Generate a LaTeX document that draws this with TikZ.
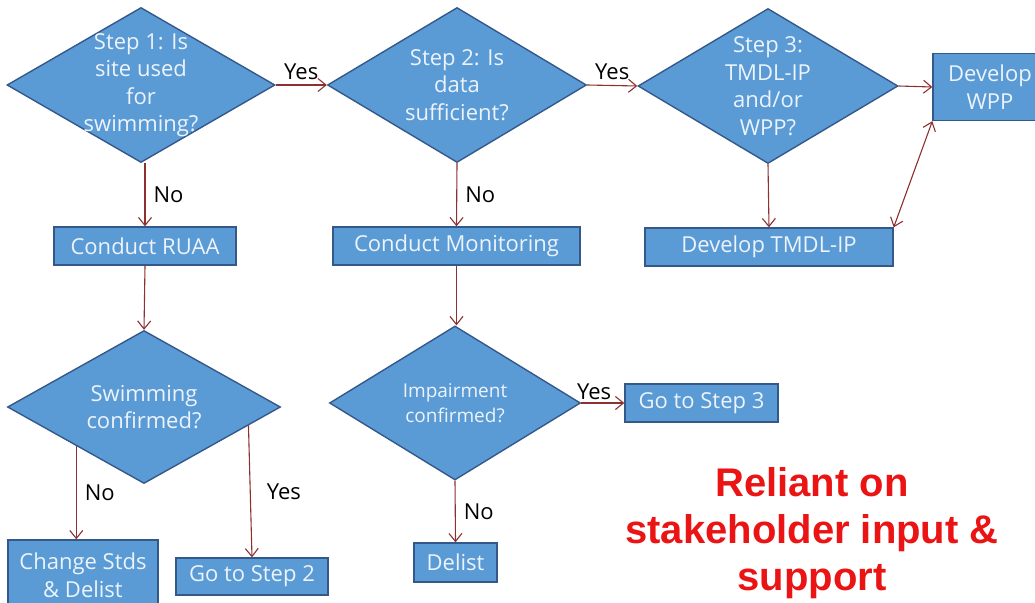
\documentclass[tikz,border=0pt]{standalone}
\usepackage{fontspec}
\setmainfont{Open Sans}
\newfontfamily\notefont{Liberation Sans}
\usetikzlibrary{positioning,arrows.meta,shapes.geometric}
\definecolor{boxblue}{RGB}{91,155,213}
\definecolor{boxedge}{RGB}{52,88,138}
\definecolor{boxtext}{RGB}{236,243,251}
\definecolor{linkred}{RGB}{140,48,48}
\definecolor{notered}{RGB}{235,20,20}
\tikzset{
  flowarrow/.style={-{Straight Barb[length=8pt,width=13pt]}, draw=linkred, line width=1.1pt},
  botharrow/.style={{Straight Barb[length=8pt,width=13pt]}-{Straight Barb[length=8pt,width=13pt]}, draw=linkred, line width=1.1pt},
  decision/.style={draw=boxedge, diamond, line width=1.4pt, fill=boxblue, inner sep=0pt},
  dtext/.style={text=boxtext, align=center},
  process/.style={draw=boxedge, rectangle, line width=1.4pt, fill=boxblue, text=boxtext, align=center, inner sep=0pt},
  lbl/.style={text=black, inner sep=2pt},
  note/.style={text=notered, align=center, font=\notefont\bfseries\fontsize{40}{47}\selectfont}
}

\begin{document}
\begin{tikzpicture}[x=1pt, y=-1pt, every node/.style={font=\fontsize{22}{27.5}\selectfont}]
  \useasboundingbox (0,0) rectangle (1035,602);
  \clip (0,0) rectangle (1035,602);
  \node[decision, minimum width=268pt, minimum height=155pt,
        label={[dtext]center:{Step 1: Is\\site used\\for\\swimming?}}] (s1) at (141,85) {};
  \node[decision, minimum width=259pt, minimum height=155pt,
        label={[dtext]center:{Step 2: Is\\data\\sufficient?}}] (s2) at (457,85) {};
  \node[decision, minimum width=260pt, minimum height=155pt,
        label={[dtext]center:{Step 3:\\TMDL-IP\\and/or\\WPP?}}] (s3) at (768,86) {};
  \node[process, minimum width=114pt, minimum height=67pt] (wpp) at (990,87) {Develop\\WPP};
  \node[process, minimum width=248pt, minimum height=38pt] (tmdl) at (769,247) {Develop TMDL-IP};
  \node[process, minimum width=182pt, minimum height=38pt] (ruaa) at (145,246) {Conduct RUAA};
  \node[process, minimum width=247pt, minimum height=38pt] (mon) at (456.5,246) {Conduct Monitoring};
  \node[decision, minimum width=273pt, minimum height=153pt,
        label={[dtext]center:{Swimming\\confirmed?}}] (swim) at (144,407) {};
  \node[decision, minimum width=251pt, minimum height=154pt,
        label={[dtext, font=\fontsize{19}{25}\selectfont]center:{Impairment\\confirmed?}}] (imp) at (455,403) {};
  \node[process, minimum width=150pt, minimum height=70pt] (chg) at (83,575) {Change Stds\\\& Delist};
  \node[process, minimum width=152pt, minimum height=37pt] (go2) at (252,576.5) {Go to Step 2};
  \node[process, minimum width=153pt, minimum height=38pt] (go3) at (701.5,403) {Go to Step 3};
  \node[process, minimum width=83pt, minimum height=39pt] (delist) at (455.5,562.5) {Delist};
  \node[note] (reliant) at (812,533) {Reliant on\\stakeholder input \&\\support};

  \draw[flowarrow] (s1.east) -- node[lbl, above=3pt] {Yes} (s2.west);
  \draw[flowarrow] (s2.east) -- node[lbl, above=3pt] {Yes} (s3.west);
  \draw[flowarrow] (s3.east) -- (wpp.west);
  \draw[flowarrow] (ruaa.north |- s1.south) -- node[lbl, right=6pt] {No} (ruaa.north);
  \draw[flowarrow] (s2.south) -- node[lbl, right=6pt] {No} (mon.north);
  \draw[flowarrow] (s3.south) -- (tmdl.north);
  \draw[botharrow] (tmdl.north east) -- (wpp.south west);
  \draw[flowarrow] (ruaa.south) -- (swim.north);
  \draw[flowarrow] (mon.south) -- (mon.south |- imp.north);
  \draw[flowarrow] (swim.210) -- node[lbl, right=6pt] {No} (swim.210 |- chg.north);
  \draw[flowarrow] (swim.-10) -- node[lbl, right=14pt] {Yes} (go2.north);
  \draw[flowarrow] (imp.east) -- node[lbl, above=1pt, pos=0.3] {Yes} (go3.west);
  \draw[flowarrow] (imp.south) -- node[lbl, right=6pt] {No} (delist.north);
\end{tikzpicture}
\end{document}
